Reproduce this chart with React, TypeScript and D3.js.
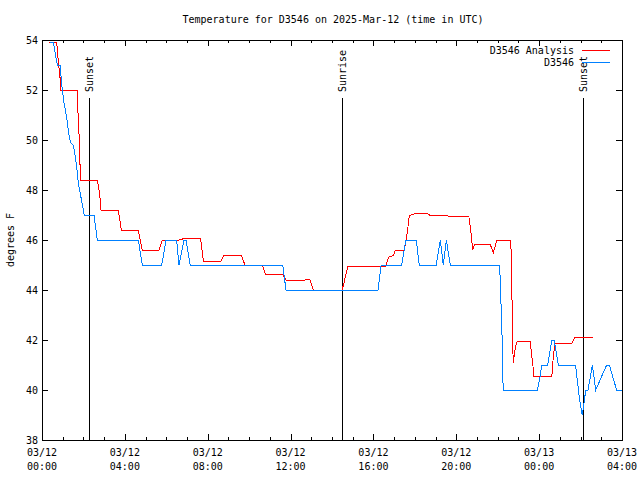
import React from "react";
import * as d3 from "d3";

const TITLE = "Temperature for D3546 on 2025-Mar-12 (time in UTC)";
const Y_LABEL = "degrees F";
const Y_TICKS = [38, 40, 42, 44, 46, 48, 50, 52, 54];
const X_MAJOR_HOURS = [0, 4, 8, 12, 16, 20, 24, 28];
const X_TICK_DATES = ["03/12", "03/12", "03/12", "03/12", "03/12", "03/12", "03/13", "03/13"];
const X_TICK_TIMES = ["00:00", "04:00", "08:00", "12:00", "16:00", "20:00", "00:00", "04:00"];

const SERIES_NAMES = ["D3546 Analysis", "D3546"];
const SERIES_COLORS = ["#ff0000", "#0080ff"];

// hours since 03/12 00:00 UTC, temperature degrees F
const analysisHours = [0.35, 0.71, 0.79, 0.87, 0.9, 1.7, 1.72, 1.79, 1.84, 1.87, 2.67, 2.74, 2.8, 2.85, 3.68, 3.83, 4.65, 4.84, 5.65, 5.81, 6.63, 6.82, 7.66, 7.79, 8.64, 8.79, 9.61, 9.8, 10.64, 10.78, 11.62, 11.78, 12.7, 12.75, 12.92, 13.1, 14.48, 14.59, 14.66, 14.76, 16.59, 16.67, 16.75, 16.96, 17.04, 17.48, 17.56, 17.65, 17.73, 17.92, 18.06, 18.57, 18.7, 19.54, 19.63, 20.61, 20.66, 20.71, 20.76, 20.79, 20.87, 20.99, 21.63, 21.79, 21.95, 22.63, 22.66, 22.69, 22.72, 22.75, 22.8, 22.85, 22.95, 23.56, 23.64, 23.69, 23.75, 24.61, 24.69, 24.77, 25.57, 25.73, 26.59];
const analysisTemps = [53.9, 53.9, 53.1, 52.5, 52.0, 52.0, 51.4, 50.2, 48.9, 48.4, 48.4, 48.1, 47.7, 47.2, 47.2, 46.4, 46.4, 45.6, 45.6, 46.0, 46.0, 46.05, 46.05, 45.15, 45.15, 45.4, 45.4, 45.0, 45.0, 44.64, 44.64, 44.4, 44.4, 44.43, 44.43, 44.0, 44.0, 44.3, 44.6, 44.93, 44.93, 45.16, 45.33, 45.37, 45.57, 45.57, 45.93, 46.4, 46.97, 47.03, 47.07, 47.07, 47.0, 47.0, 46.93, 46.93, 46.6, 46.27, 45.87, 45.6, 45.8, 45.84, 45.84, 45.5, 45.97, 45.97, 45.2, 43.6, 41.93, 41.1, 41.4, 41.7, 41.95, 41.95, 41.4, 41.07, 40.53, 40.53, 41.4, 41.87, 41.87, 42.1, 42.1];

const obsHours = [0.39, 0.55, 0.63, 0.74, 0.87, 0.97, 1.06, 1.19, 1.32, 1.39, 1.51, 1.59, 1.68, 1.75, 1.84, 1.95, 2.04, 2.51, 2.67, 4.65, 4.84, 5.78, 5.99, 6.5, 6.61, 6.86, 6.95, 7.15, 11.62, 11.78, 16.22, 16.37, 17.36, 17.57, 18.07, 18.21, 19.03, 19.23, 19.37, 19.52, 19.71, 22.08, 22.13, 22.17, 22.22, 22.24, 22.27, 23.91, 24.04, 24.12, 24.41, 24.61, 24.72, 24.93, 25.76, 25.84, 25.94, 26.08, 26.17, 26.25, 26.36, 26.57, 26.73, 27.26, 27.39, 27.74, 28.0];
const obsTemps = [53.9, 53.9, 53.5, 53.0, 53.0, 52.1, 51.5, 50.9, 50.1, 49.9, 49.8, 49.4, 48.9, 48.3, 47.9, 47.4, 47.0, 47.0, 46.0, 46.0, 45.0, 45.0, 46.0, 46.0, 45.0, 46.0, 46.0, 45.0, 45.0, 44.0, 44.0, 45.0, 45.0, 46.0, 46.0, 45.0, 45.0, 46.0, 45.0, 46.0, 45.0, 45.0, 44.36, 43.13, 41.87, 40.6, 40.0, 40.0, 40.5, 41.0, 41.0, 42.0, 42.0, 41.0, 41.0, 40.4, 39.7, 39.0, 39.5, 40.0, 40.0, 41.0, 40.0, 41.0, 41.0, 40.0, 40.0];

const EVENT_NAMES = ["Sunset", "Sunrise", "Sunset"];
const EVENT_HOURS = [2.28, 14.49, 26.13];

const W = 640;
const H = 480;
const L = 42;
const R = 622;
const T = 40;
const B = 440;
const FONT = "'DejaVu Sans Mono', 'Liberation Mono', monospace";

export default function App() {
  const x = d3.scaleLinear().domain([0, 28]).range([L, R]);
  const y = d3.scaleLinear().domain([38, 54]).range([B, T]);
  const line = d3
    .line<[number, number]>()
    .x((d) => x(d[0]))
    .y((d) => y(d[1]));
  const analysis = analysisHours.map((h, i) => [h, analysisTemps[i]] as [number, number]);
  const obs = obsHours.map((h, i) => [h, obsTemps[i]] as [number, number]);
  const minorHours = d3.range(0, 29, 1).filter((h) => h % 4 !== 0);

  return (
    <svg
      width={W}
      height={H}
      style={{ position: "absolute", left: 0, top: 0, background: "#fff" }}
      fontFamily={FONT}
      fontSize={10}
    >
      <rect x={0} y={0} width={W} height={H} fill="#fff" />
      <text x={W / 2 + 13} y={23} textAnchor="middle" fill="#000">
        {TITLE}
      </text>
      <text
        transform={`translate(14,${(T + B) / 2}) rotate(-90)`}
        textAnchor="middle"
        fill="#000"
      >
        {Y_LABEL}
      </text>
      <g shapeRendering="crispEdges" stroke="#000" strokeWidth={1}>
        {Y_TICKS.map((v) => (
          <g key={"y" + v}>
            <line x1={L} x2={L + 6} y1={Math.round(y(v)) + 0.5} y2={Math.round(y(v)) + 0.5} />
            <line x1={R - 6} x2={R} y1={Math.round(y(v)) + 0.5} y2={Math.round(y(v)) + 0.5} />
          </g>
        ))}
        {X_MAJOR_HOURS.map((h) => (
          <g key={"xm" + h}>
            <line x1={Math.round(x(h)) + 0.5} x2={Math.round(x(h)) + 0.5} y1={B} y2={B - 6} />
            <line x1={Math.round(x(h)) + 0.5} x2={Math.round(x(h)) + 0.5} y1={T} y2={T + 6} />
          </g>
        ))}
        {minorHours.map((h) => (
          <g key={"xn" + h}>
            <line x1={Math.round(x(h)) + 0.5} x2={Math.round(x(h)) + 0.5} y1={B} y2={B - 3} />
            <line x1={Math.round(x(h)) + 0.5} x2={Math.round(x(h)) + 0.5} y1={T} y2={T + 3} />
          </g>
        ))}
      </g>
      {Y_TICKS.map((v) => (
        <text key={"yl" + v} x={L - 4} y={y(v) + 4} textAnchor="end" fill="#000">
          {v}
        </text>
      ))}
      {X_MAJOR_HOURS.map((h, i) => (
        <g key={"xl" + h}>
          <text x={x(h)} y={456} textAnchor="middle" fill="#000">
            {X_TICK_DATES[i]}
          </text>
          <text x={x(h)} y={470} textAnchor="middle" fill="#000">
            {X_TICK_TIMES[i]}
          </text>
        </g>
      ))}
      {EVENT_HOURS.map((h, i) => (
        <g key={"ev" + i}>
          <line
            x1={Math.round(x(h)) + 0.5}
            x2={Math.round(x(h)) + 0.5}
            y1={98}
            y2={B}
            stroke="#000"
            strokeWidth={1}
            shapeRendering="crispEdges"
          />
          <text
            transform={`translate(${x(h) + 4},92) rotate(-90)`}
            textAnchor="start"
            fill="#000"
          >
            {EVENT_NAMES[i]}
          </text>
        </g>
      ))}
      <path
        d={line(analysis) || ""}
        fill="none"
        stroke={SERIES_COLORS[0]}
        strokeWidth={1}
        shapeRendering="crispEdges"
      />
      <path
        d={line(obs) || ""}
        fill="none"
        stroke={SERIES_COLORS[1]}
        strokeWidth={1}
        shapeRendering="crispEdges"
      />
      {SERIES_NAMES.map((n, i) => (
        <g key={"lg" + i}>
          <text x={574} y={54 + i * 12} textAnchor="end" fill="#000">
            {n}
          </text>
          <line
            x1={582}
            x2={610}
            y1={50.5 + i * 12}
            y2={50.5 + i * 12}
            stroke={SERIES_COLORS[i]}
            strokeWidth={1}
            shapeRendering="crispEdges"
          />
        </g>
      ))}
      <rect
        x={L + 0.5}
        y={T + 0.5}
        width={R - L}
        height={B - T}
        fill="none"
        stroke="#000"
        strokeWidth={1}
        shapeRendering="crispEdges"
      />
    </svg>
  );
}
